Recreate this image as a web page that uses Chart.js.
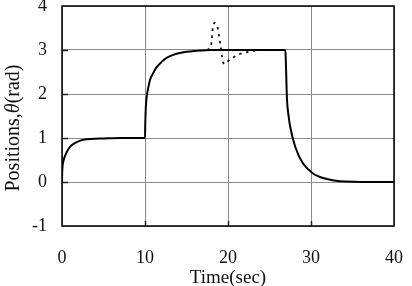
<!DOCTYPE html>
<html><head><meta charset="utf-8">
<script src="https://cdn.jsdelivr.net/npm/chart.js@4"></script>
<style>html,body{margin:0;padding:0;background:#fff}#wrap{width:412px;height:286px}</style>
</head><body><div id="wrap"><canvas id="c" width="412" height="286"></canvas></div>
<script>
const solidT = [0,0.02,0.08,0.2,0.36,0.6,0.96,1.5,2.2,3,4,5,7,10,10.03,10.1,10.2,10.4,10.6,11,11.4,12,12.6,13.4,14.2,15,16,17,18,26.9,26.95,27.05,27.1,27.3,27.5,28.1,29.0,30.2,31,31.9,33,34.3,36,40];
const solidY = [0,0.2,0.38,0.5,0.59,0.69,0.8,0.88,0.94,0.97,0.985,0.99,1.0,1.0,1.3,1.7,1.93,2.15,2.32,2.48,2.61,2.73,2.82,2.89,2.93,2.96,2.98,2.99,3.0,3.0,2.85,2.2,1.9,1.5,1.25,0.8,0.43,0.2,0.12,0.07,0.03,0.01,0.0,0.0];
const dashT = [17.5,17.9,18.0,18.1,18.2,18.4,18.7,18.9,19.1,19.3,19.5,19.8,20.4,21.3,22.3,23,24];
const dashY = [3.0,3.05,3.16,3.36,3.55,3.62,3.55,3.35,3.1,2.84,2.68,2.72,2.8,2.9,2.95,2.98,3.0];
const xTicks = [0,10,20,30,40];
const yTicks = [-1,0,1,2,3,4];
const xTitle = 'Time(sec)';
const yTitleParts = ['Positions,','θ','(rad)'];

const pts = (t,y)=>t.map((v,i)=>({x:v,y:y[i]}));
const FONT = '"Liberation Serif","Times New Roman",serif';

const frame = {
  id:'frame',
  beforeDatasetsDraw(chart){
    const {ctx, chartArea:a, scales:{x,y}} = chart;
    ctx.save();
    ctx.strokeStyle = '#222'; ctx.lineWidth = 1.5;
    ctx.beginPath();
    xTicks.forEach(v=>{ if(v>0&&v<40){ const px=Math.round(x.getPixelForValue(v))+0.5; ctx.moveTo(px,a.bottom); ctx.lineTo(px,a.bottom-5);} });
    yTicks.forEach(v=>{ if(v>-1&&v<4){ const py=Math.round(y.getPixelForValue(v))+0.5; ctx.moveTo(a.left,py); ctx.lineTo(a.left+6,py);} });
    ctx.stroke();
    ctx.restore();
  },
  afterDraw(chart){
    const {ctx, chartArea:a} = chart;
    ctx.save();
    ctx.strokeStyle = '#000'; ctx.lineWidth = 1.5;
    ctx.strokeRect(a.left, a.top, a.right-a.left, a.bottom-a.top);
    ctx.translate(14, 128);
    ctx.rotate(-Math.PI/2);
    ctx.fillStyle = '#111';
    ctx.textBaseline = 'middle';
    const fonts = ['20px '+FONT, 'italic 20px '+FONT, '20px '+FONT];
    let w = 0;
    const ws = yTitleParts.map((s,i)=>{ctx.font=fonts[i]; const m=ctx.measureText(s).width; w+=m; return m;});
    let xx = -w/2;
    yTitleParts.forEach((s,i)=>{ctx.font=fonts[i]; ctx.fillText(s,xx,0); xx+=ws[i];});
    ctx.restore();
  }
};

new Chart(document.getElementById('c'), {
  type:'scatter',
  data:{datasets:[
    {data:pts(solidT,solidY), showLine:true, borderColor:'#000', borderWidth:2, pointRadius:0, cubicInterpolationMode:'monotone', order:2},
    {data:pts(dashT,dashY), showLine:true, borderColor:'#111', borderWidth:1.8, borderDash:[2.5,4.5], pointRadius:0, tension:0.3, order:1}
  ]},
  options:{
    responsive:false, animation:false, devicePixelRatio:1,
    layout:{padding:{top:6,right:18,left:0,bottom:0}},
    plugins:{legend:{display:false}, tooltip:{enabled:false}},
    scales:{
      x:{type:'linear', min:0, max:40,
        afterBuildTicks(s){ s.ticks = xTicks.map(v=>({value:v})); },
        afterFit(s){ s.height = 60; s.paddingLeft=0; s.paddingRight=0; },
        grid:{color:'#8a8a8a', lineWidth:1, drawTicks:false},
        border:{display:false},
        ticks:{padding:21, color:'#111', font:{family:FONT, size:18}},
        title:{display:true, text:xTitle, color:'#111', font:{family:FONT, size:19, lineHeight:0.8}, padding:{top:0,bottom:0}}
      },
      y:{type:'linear', min:-1, max:4,
        afterBuildTicks(s){ s.ticks = yTicks.map(v=>({value:v})); },
        afterFit(s){ s.width = 62; s.paddingTop=0; s.paddingBottom=0; },
        grid:{color:'#8a8a8a', lineWidth:1, drawTicks:false},
        border:{display:false},
        ticks:{padding:15, color:'#111', font:{family:FONT, size:18}},
      }
    }
  },
  plugins:[frame]
});
</script></body></html>
